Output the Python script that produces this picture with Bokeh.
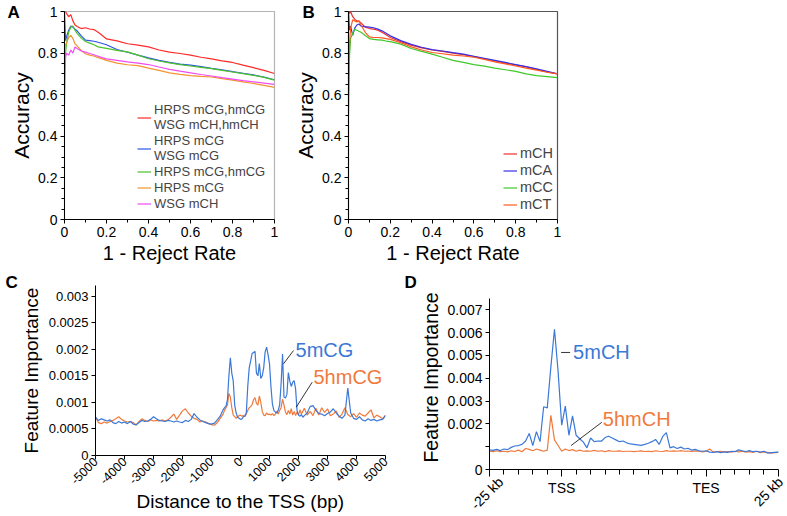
import math
import numpy as np
from bokeh.plotting import figure
from bokeh.layouts import column, row
from bokeh.models import FixedTicker, Legend, LegendItem, Label, Range1d, Title, LinearAxis
from bokeh.embed import file_html
from bokeh.resources import INLINE

FONT = "Liberation Sans"

# ---------------- Panel A / B data (accuracy vs 1 - reject rate) ----------------
ab_x = [0, 0.005, 0.01, 0.02, 0.03, 0.04, 0.05, 0.06, 0.08, 0.1, 0.12, 0.14, 0.16, 0.18, 0.2,
        0.25, 0.3, 0.35, 0.4, 0.45, 0.5, 0.55, 0.6, 0.65, 0.7, 0.75, 0.8, 0.85, 0.9, 0.95, 1.0]

a_red = [1.0, 1.0, 0.99, 0.975, 0.985, 0.955, 0.935, 0.928, 0.918, 0.922, 0.916, 0.913, 0.9, 0.885, 0.868,
         0.859, 0.845, 0.838, 0.83, 0.815, 0.805, 0.798, 0.79, 0.78, 0.772, 0.763, 0.755, 0.742, 0.73, 0.717, 0.702]
a_blue = [1.0, 0.86, 0.88, 0.91, 0.93, 0.925, 0.915, 0.907, 0.883, 0.862, 0.86, 0.857, 0.852, 0.846, 0.84,
          0.817, 0.804, 0.79, 0.777, 0.765, 0.755, 0.747, 0.742, 0.735, 0.727, 0.72, 0.711, 0.703, 0.695, 0.685, 0.672]
a_green = [0.75, 0.8, 0.85, 0.9, 0.925, 0.93, 0.91, 0.895, 0.872, 0.856, 0.848, 0.84, 0.83, 0.826, 0.823,
           0.813, 0.806, 0.79, 0.773, 0.762, 0.753, 0.745, 0.738, 0.731, 0.725, 0.717, 0.709, 0.701, 0.693, 0.683, 0.670]
a_orange = [0.8, 0.84, 0.85, 0.875, 0.885, 0.87, 0.845, 0.835, 0.812, 0.797, 0.79, 0.786, 0.778, 0.772, 0.765,
            0.752, 0.744, 0.74, 0.728, 0.717, 0.705, 0.698, 0.692, 0.688, 0.685, 0.677, 0.67, 0.662, 0.654, 0.645, 0.635]
a_magenta = [0.55, 0.78, 0.80, 0.79, 0.815, 0.80, 0.83, 0.822, 0.81, 0.805, 0.798, 0.792, 0.785, 0.778, 0.772,
             0.765, 0.758, 0.752, 0.745, 0.733, 0.722, 0.713, 0.705, 0.697, 0.69, 0.682, 0.675, 0.668, 0.662, 0.656, 0.65]
a_labels = ["HRPS mCG,hmCG\nWSG mCH,hmCH", "HRPS mCG\nWSG mCG", "HRPS mCG,hmCG", "HRPS mCG", "WSG mCH"]

b_mch = [1.0, 0.99, 1.0, 0.975, 0.963, 0.955, 0.953, 0.945, 0.925, 0.918, 0.915, 0.91, 0.9, 0.888, 0.875,
         0.855, 0.838, 0.825, 0.815, 0.808, 0.8, 0.792, 0.783, 0.772, 0.762, 0.752, 0.743, 0.734, 0.722, 0.71, 0.70]
b_mca = [1.0, 0.91, 0.93, 0.885, 0.92, 0.935, 0.94, 0.93, 0.927, 0.925, 0.922, 0.915, 0.907, 0.895, 0.883,
         0.86, 0.842, 0.828, 0.817, 0.81, 0.802, 0.795, 0.785, 0.775, 0.765, 0.755, 0.745, 0.735, 0.724, 0.712, 0.70]
b_mcc = [0.6, 0.79, 0.87, 0.895, 0.915, 0.91, 0.905, 0.9, 0.885, 0.87, 0.866, 0.864, 0.862, 0.858, 0.855,
         0.843, 0.822, 0.808, 0.795, 0.78, 0.765, 0.755, 0.745, 0.737, 0.728, 0.72, 0.712, 0.70, 0.692, 0.687, 0.682]
b_mct = [0.5, 0.85, 0.92, 0.96, 0.955, 0.95, 0.955, 0.935, 0.9, 0.878, 0.875, 0.875, 0.873, 0.87, 0.866,
         0.85, 0.83, 0.815, 0.803, 0.797, 0.79, 0.786, 0.78, 0.77, 0.758, 0.748, 0.738, 0.728, 0.718, 0.708, 0.70]
b_labels = ["mCH", "mCA", "mCC", "mCT"]

ab_ticks = [0, 0.2, 0.4, 0.6, 0.8, 1]
ab_tick_labels = ["0", "0.2", "0.4", "0.6", "0.8", "1"]

# ---------------- Panel C data (feature importance around TSS) ----------------
c_x = list(range(-5000, -600, 100)) + list(range(-600, 2200, 50)) + list(range(2200, 5001, 100))
c_mcg_e4 = [
    # -5000 .. -700 (step 100)
    7.2, 6.6, 6.9, 6.7, 6.5, 6.7, 6.2, 6.0, 6.4, 6.1, 6.3, 6.0, 6.4, 5.9, 5.8, 6.2, 6.6, 6.4, 6.5, 6.8,
    7.3, 6.9, 6.6, 6.5, 6.4, 6.6, 6.5, 6.3, 6.5, 6.3, 6.2, 6.6, 6.4, 6.8, 7.9, 7.2, 6.7, 6.4, 6.2, 6.0,
    5.9, 6.1, 6.7, 7.4,
    # -600 .. 2150 (step 50)
    8.6, 9.0, 9.3, 10.5, 15.0, 18.4, 15.5, 14.0, 9.5, 8.0, 7.2, 7.0, 6.8, 6.9, 7.3, 7.5, 8.0, 13.0, 16.5, 17.8,
    19.2, 19.4, 19.6, 15.5, 15.0, 17.3, 14.5, 15.0, 16.5, 19.5, 20.4, 19.0, 17.3, 13.0, 9.7, 8.5, 8.2, 8.0, 8.5, 9.5,
    13.5, 19.1, 11.0, 10.8, 11.5, 15.6, 14.0, 13.0, 13.8, 14.1, 12.5, 8.5, 7.6, 7.4, 7.7, 7.2,
    # 2200 .. 5000 (step 100)
    7.5, 8.0, 9.2, 9.4, 8.5, 7.9, 7.8, 7.5, 7.9, 8.2, 8.8, 8.0, 7.4, 7.0, 7.6, 12.7, 8.0, 7.0, 6.8, 7.3,
    6.7, 6.5, 6.9, 6.6, 6.8, 6.5, 6.7, 6.8, 7.5]
c_hmcg_e4 = [
    7.2, 6.2, 6.0, 6.3, 6.1, 6.4, 6.6, 6.9, 7.3, 6.8, 6.5, 6.3, 6.4, 6.2, 5.7, 6.4, 6.9, 6.6, 6.4, 6.7,
    6.5, 6.6, 6.5, 6.7, 6.5, 6.7, 7.2, 7.8, 6.8, 7.6, 8.4, 8.8, 8.0, 7.4, 7.0, 6.8, 6.3, 6.5, 6.3, 6.0,
    5.8, 5.7, 6.2, 7.0,
    7.8, 8.5, 9.0, 9.5, 11.7, 11.0, 9.0, 7.6, 7.3, 7.0, 7.3, 7.5, 7.6, 7.4, 7.5, 7.3, 7.8, 8.5, 9.0, 9.2,
    9.6, 10.5, 10.9, 9.8, 9.5, 11.2, 10.0, 8.3, 7.6, 7.5, 8.0, 7.7, 7.8, 7.6, 7.9, 7.5, 7.8, 8.3, 7.8, 8.5,
    9.0, 10.6, 9.5, 8.2, 7.7, 8.5, 7.8, 8.8, 7.6, 8.3, 7.5, 8.2, 7.6, 8.6, 7.8, 8.3,
    8.9, 7.6, 8.3, 7.5, 8.9, 7.6, 9.0, 8.1, 8.8, 7.5, 7.8, 8.4, 7.2, 7.8, 9.0, 7.7, 7.3, 7.9, 7.2, 8.0,
    7.6, 7.4, 8.0, 8.6, 7.1, 7.6, 7.3, 6.9, 7.6]
c_xticks = [-5000, -4000, -3000, -2000, -1000, 0, 1000, 2000, 3000, 4000, 5000]
c_yticks = [0, 0.0005, 0.001, 0.0015, 0.002, 0.0025, 0.003]
c_ytick_labels = ["0", "0.0005", "0.001", "0.0015", "0.002", "0.0025", "0.003"]

# ---------------- Panel D data (feature importance along gene body) ----------------
d_x = np.linspace(0, 20, 81)
d_mch_e3 = [0.86, 0.84, 0.88, 0.83, 0.90, 0.87, 0.97, 1.03, 1.05, 1.10, 1.25, 1.58, 1.05, 1.66, 1.22, 2.75,
            2.70, 4.50, 6.15, 4.30, 1.94, 2.78, 1.50, 2.35, 1.50, 1.35, 1.20, 0.95, 1.38, 1.22, 1.25, 1.24,
            1.40, 1.46, 1.38, 1.30, 1.22, 1.25, 1.17, 1.12, 1.10, 1.08, 1.06, 1.10, 1.15, 1.22, 1.32, 1.10,
            1.45, 1.62, 0.95, 1.00, 0.92, 0.98, 0.90, 0.93, 0.85, 0.88, 0.82, 0.80, 0.82, 0.76, 0.75, 0.78,
            0.74, 0.77, 0.75, 0.80, 0.78, 0.86, 0.82, 0.79, 0.83, 0.78, 0.80, 0.76, 0.80, 0.72, 0.74, 0.75, 0.76]
d_hmch_e3 = [0.80, 0.78, 0.82, 0.78, 0.80, 0.77, 0.82, 0.79, 0.85, 0.78, 0.92, 0.88, 0.82, 0.90, 0.85, 0.80,
             0.85, 2.37, 1.30, 1.05, 0.80, 0.90, 0.83, 0.87, 0.80, 0.85, 0.80, 0.82, 0.80, 0.84, 0.80, 0.82,
             0.78, 0.83, 0.80, 0.80, 0.82, 0.79, 0.80, 0.80, 0.78, 0.80, 0.82, 0.79, 0.80, 0.78, 0.82, 0.80,
             0.79, 0.83, 0.80, 0.82, 0.80, 0.83, 0.80, 0.81, 0.79, 0.82, 0.80, 0.77, 0.80, 0.90, 0.76, 0.78,
             0.80, 0.77, 0.79, 0.76, 0.80, 0.77, 0.80, 0.76, 0.78, 0.75, 0.80, 0.74, 0.77, 0.75, 0.72, 0.74, 0.75]
d_xticks = [0, 5, 15, 20]
d_xtick_labels = ["", "TSS", "TES", ""]
d_end_labels = ["-25 kb", "25 kb"]
d_yticks = [0, 0.001, 0.002, 0.003, 0.004, 0.005, 0.006, 0.007]
d_ytick_labels = ["0", "", "0.002", "0.003", "0.004", "0.005", "0.006", "0.007"]

BLUE = "#3b78d8"
ORANGE = "#f07a3c"


def style(p, tick_size, title_size):
    p.grid.visible = False
    p.background_fill_color = "white"
    p.border_fill_color = "white"
    for ax in p.axis:
        ax.major_label_text_font = FONT
        ax.axis_label_text_font = FONT
        ax.axis_label_text_font_style = "normal"
        ax.major_label_text_font_size = tick_size
        ax.axis_label_text_font_size = title_size
        ax.major_label_text_color = "black"
        ax.axis_label_text_color = "black"
        ax.axis_line_color = "black"
        ax.axis_line_width = 1
        ax.major_tick_line_color = "black"
        ax.minor_tick_line_color = "black"
        ax.major_tick_in = 0
        ax.major_tick_out = 4
        ax.minor_tick_in = 0
        ax.minor_tick_out = 3
        ax.major_label_standoff = 3


def panel_letter(p, text, offset, standoff):
    # bold panel letter drawn as a (collapsed) title above the frame
    p.add_layout(Title(text=text, align="left", vertical_align="bottom", offset=offset,
                       standoff=standoff, text_font=FONT, text_font_style="bold",
                       text_font_size="17px", text_color="black"), "above")


def make_ab(series, colors, labels, outline, label_size, legend_loc, left_border, right_border, fw):
    p = figure(frame_width=fw, frame_height=208,
               min_border_left=left_border, min_border_right=right_border,
               min_border_top=11, min_border_bottom=48,
               x_range=Range1d(0, 1), y_range=Range1d(0, 1),
               output_backend="svg", toolbar_location=None)
    p.outline_line_color = outline
    p.outline_line_width = 1.2
    renderers = []
    for ys, c in zip(series, colors):
        renderers.append(p.line(ab_x, ys, line_color=c, line_width=1.2))
    style(p, "14px", "21px")
    p.xaxis.axis_label = "1 - Reject Rate"
    p.yaxis.axis_label = "Accuracy"
    p.xaxis.axis_label_text_font_size = "20px"
    p.xaxis.axis_label_standoff = 2
    p.yaxis.axis_label_standoff = 2
    p.xaxis.ticker = FixedTicker(ticks=ab_ticks, minor_ticks=[0.1, 0.3, 0.5, 0.7, 0.9])
    p.yaxis.ticker = FixedTicker(ticks=ab_ticks,
                                 minor_ticks=[0.05, 0.1, 0.15, 0.25, 0.3, 0.35, 0.45, 0.5, 0.55,
                                              0.65, 0.7, 0.75, 0.85, 0.9, 0.95])
    overrides = {t: s for t, s in zip(ab_ticks, ab_tick_labels)}
    p.xaxis.major_label_overrides = overrides
    p.yaxis.major_label_overrides = overrides
    items = [LegendItem(label=l, renderers=[r]) for l, r in zip(labels, renderers)]
    leg = Legend(items=items, location=legend_loc, glyph_width=14, glyph_height=15,
                 label_height=15, label_standoff=3, spacing=1, padding=0, margin=0,
                 border_line_color=None, background_fill_alpha=0,
                 label_text_font=FONT, label_text_font_size=label_size,
                 label_text_line_height=1.1)
    p.add_layout(leg)
    return p


pA = make_ab([a_red, a_blue, a_green, a_orange, a_magenta],
             ["#ff2a2a", "#2f55e8", "#4cc12a", "#f2952e", "#f04cf0"],
             a_labels, "#b4b4b4", "13px", (73, 8), 64, 14, 210)
pB = make_ab([b_mch, b_mca, b_mcc, b_mct],
             ["#ee2f2f", "#3a30e6", "#3fc82a", "#ff5a1e"],
             b_labels, "#555555", "14.5px", (155, 7), 60, 10, 209)
panel_letter(pA, "A", -57, -20)
panel_letter(pB, "B", -46, -20)

# ---------------- Panel C ----------------
pC = figure(frame_width=290, frame_height=170, min_border_left=95, min_border_right=15,
            min_border_top=18, min_border_bottom=57,
            x_range=Range1d(-5000, 5000), y_range=Range1d(0, 0.0032),
            output_backend="svg", toolbar_location=None)
pC.outline_line_color = None
pC.line(c_x, [v * 1e-4 for v in c_hmcg_e4], line_color=ORANGE, line_width=1.2)
pC.line(c_x, [v * 1e-4 for v in c_mcg_e4], line_color=BLUE, line_width=1.2)
style(pC, "13px", "19px")
pC.xaxis.axis_label = "Distance to the TSS (bp)"
pC.yaxis.axis_label = "Feature Importance"
pC.xaxis.ticker = FixedTicker(ticks=c_xticks, minor_ticks=[])
pC.yaxis.ticker = FixedTicker(ticks=c_yticks, minor_ticks=[])
pC.xaxis.major_label_overrides = {t: str(t) for t in c_xticks}
pC.yaxis.major_label_overrides = {t: s for t, s in zip(c_yticks, c_ytick_labels)}
pC.xaxis.major_label_orientation = math.pi / 4
pC.xaxis.major_label_text_font_size = "12.5px"
pC.xaxis.major_label_standoff = 0
pC.xaxis.axis_label_standoff = 0
pC.yaxis.axis_label_standoff = 4
pC.segment(x0=[1483, 1921], y0=[0.001726, 0.000909], x1=[1828, 2472], y1=[0.001976, 0.00138],
           line_color="black", line_width=0.8)
pC.add_layout(Label(x=1897, y=0.001995, text="5mCG", text_color=BLUE, text_font=FONT,
                    text_font_size="20px", text_baseline="middle"))
pC.add_layout(Label(x=2517, y=0.001487, text="5hmCG", text_color=ORANGE, text_font=FONT,
                    text_font_size="20px", text_baseline="middle"))
panel_letter(pC, "C", -90, -12)

# ---------------- Panel D ----------------
D_XMAX = 20.5
pD = figure(frame_width=296, frame_height=184, min_border_left=89, min_border_right=1,
            min_border_top=18, min_border_bottom=43,
            x_range=Range1d(0, D_XMAX), y_range=Range1d(0, 0.008065),
            output_backend="svg", toolbar_location=None)
pD.outline_line_color = None
pD.line(d_x, [v * 1e-3 for v in d_hmch_e3], line_color=ORANGE, line_width=1.2)
pD.line(d_x, [v * 1e-3 for v in d_mch_e3], line_color=BLUE, line_width=1.2)
# second bottom axis carrying only the rotated end labels (no line, no ticks)
end_axis = LinearAxis(ticker=FixedTicker(ticks=[0.78, 20.15], minor_ticks=[]),
                      major_label_overrides={0.78: d_end_labels[0], 20.15: d_end_labels[1]})
pD.add_layout(end_axis, "below")
style(pD, "14px", "19.5px")
end_axis.axis_line_color = None
end_axis.major_tick_line_color = None
end_axis.minor_tick_line_color = None
end_axis.major_tick_out = 0
end_axis.minor_tick_out = 0
end_axis.major_label_orientation = math.pi / 4
end_axis.major_label_standoff = -19
pD.yaxis.axis_label = "Feature Importance"
pD.yaxis.axis_label_standoff = 2
pD.yaxis.bounds = (0, 0.00748)
pD.xaxis[0].bounds = (0, 20)
pD.xaxis[0].ticker = FixedTicker(ticks=d_xticks, minor_ticks=[i for i in range(21) if i not in d_xticks])
pD.yaxis.ticker = FixedTicker(ticks=d_yticks, minor_ticks=[])
pD.xaxis[0].major_label_overrides = {t: s for t, s in zip(d_xticks, d_xtick_labels)}
pD.yaxis.major_label_overrides = {t: s for t, s in zip(d_yticks, d_ytick_labels)}
pD.xaxis[0].major_tick_out = 7
pD.xaxis[0].minor_tick_out = 5
pD.segment(x0=[4.96, 5.65], y0=[0.00513, 0.00105], x1=[5.58, 7.78], y1=[0.00513, 0.00207],
           line_color="black", line_width=0.8)
pD.add_layout(Label(x=5.79, y=0.00513, text="5mCH", text_color=BLUE, text_font=FONT,
                    text_font_size="20px", text_baseline="middle"))
pD.add_layout(Label(x=7.85, y=0.002235, text="5hmCH", text_color=ORANGE, text_font=FONT,
                    text_font_size="20px", text_baseline="middle"))
panel_letter(pD, "D", -85, -12)

layout = column(row(pA, pB), row(pC, pD))
open("out.html", "w").write(file_html(layout, INLINE))
